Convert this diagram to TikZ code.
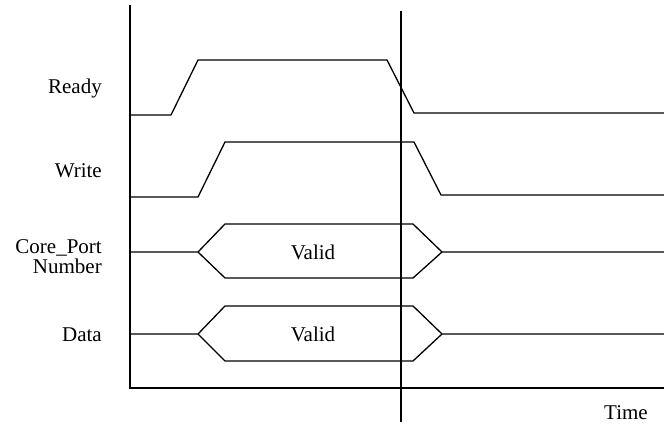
\documentclass[tikz,border=0pt]{standalone}
\usepackage{fontspec}
\setmainfont{Liberation Serif}
\begin{document}
\begin{tikzpicture}[x=1pt,y=-1pt,
  sig/.style={line width=1.3pt,line join=miter},
  axis/.style={line width=1.3pt},
  lbl/.style={font=\fontsize{21}{20}\selectfont,inner sep=0pt,anchor=east,align=right},
  txt/.style={font=\fontsize{21}{20}\selectfont,inner sep=0pt}]
\useasboundingbox (0,0) rectangle (664,425);
% axes
\coordinate (ytop) at (130,5);
\coordinate (origin) at (130,388);
\coordinate (xend) at (664,388);
\draw[axis] (ytop) -- (origin) -- (xend);
\coordinate (mtop) at (401,11);
\coordinate (mbot) at (401,422);
\draw[axis] (mtop) -- (mbot);
% labels
\node[lbl] (ready) at (102,88) {Ready};
\node[lbl] (write) at (102,171) {Write};
\node[lbl] (core) at (102,257) {Core\_Port\\Number};
\node[lbl] (data) at (102,335) {Data};
\node[txt] (time) at (626,413) {Time};
% Ready
\draw[sig] (130,115) -- (171,115) -- (198,60) -- (387,60) -- (414,113) -- (664,113);
% Write
\draw[sig] (130,197) -- (198,197) -- (225,142) -- (414,142) -- (441,195) -- (664,195);
% Core_Port Number bus
\draw[sig] (130,252) -- (198,252) -- (225,224) -- (413,224) -- (442,252) -- (664,252);
\draw[sig] (198,252) -- (225,278) -- (413,278) -- (442,252);
\node[txt] (valid1) at (313,252) {Valid};
% Data bus
\draw[sig] (130,334) -- (198,334) -- (225,306) -- (413,306) -- (442,334) -- (664,334);
\draw[sig] (198,334) -- (225,361) -- (413,361) -- (442,334);
\node[txt] (valid2) at (313,334) {Valid};
\end{tikzpicture}
\end{document}
